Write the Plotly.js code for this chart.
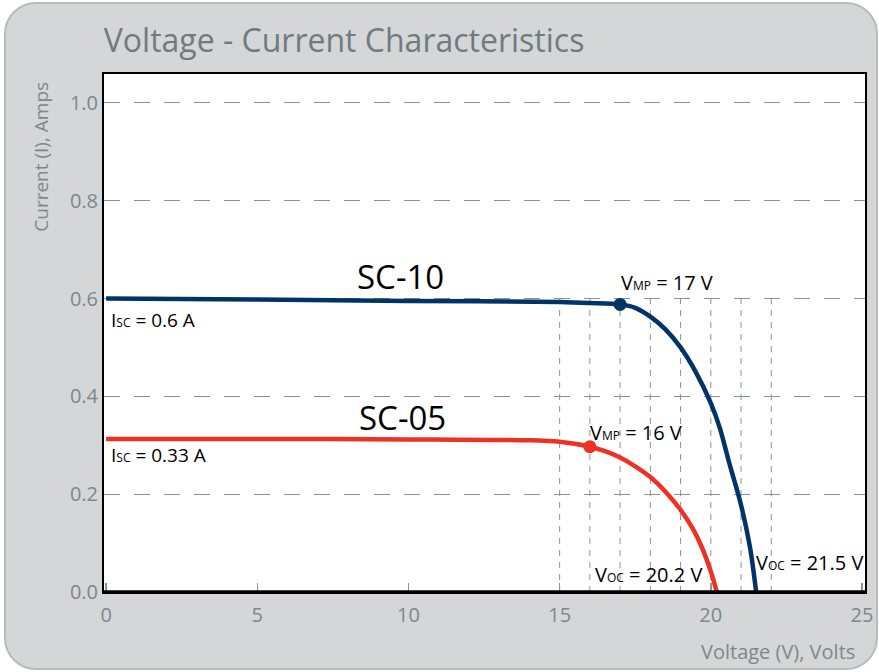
<!DOCTYPE html>
<html>
<head>
<meta charset="utf-8">
<script src="https://cdn.plot.ly/plotly-3.0.1.min.js"></script>
<style>
  html, body { margin: 0; padding: 0; background: #ffffff; }
  #wrap { position: relative; width: 879px; height: 672px; overflow: hidden; }
  #panel { position: absolute; left: 4px; top: 2px; width: 870px; height: 664px;
           background: #d4d6d8; border: 2px solid #b8bbbd; border-radius: 32px; }
  #chart { position: absolute; left: 0; top: 0; width: 879px; height: 672px; }
</style>
</head>
<body>
<div id="wrap"><div id="panel"></div><div id="chart"></div></div>
<script>
// ---- data ----
const sc10Volts = [0, 5, 10, 15, 16, 17, 17.5, 18, 18.5, 19, 19.5, 20, 20.3, 20.6, 21, 21.3, 21.5];
const sc10Amps  = [0.600, 0.598, 0.595, 0.593, 0.591, 0.588, 0.581, 0.563, 0.537, 0.500, 0.450, 0.386, 0.335, 0.266, 0.178, 0.090, 0.0];
const sc05Volts = [0, 5, 10, 14, 15, 16, 16.5, 17, 17.5, 18, 18.5, 19, 19.4, 19.7, 20, 20.2];
const sc05Amps  = [0.313, 0.313, 0.312, 0.310, 0.307, 0.297, 0.288, 0.275, 0.257, 0.235, 0.205, 0.168, 0.130, 0.092, 0.042, 0.0];
const mpVolts = [17, 16];
const mpAmps  = [0.588, 0.297];
const refVolts = [15, 16, 17, 18, 19, 20, 21, 22];
const refTop = 0.6;
const xTicks = [0, 5, 10, 15, 20, 25];
const yTicks = [0, 0.2, 0.4, 0.6, 0.8, 1.0];
const yTickText = ['0.0', '0.2', '0.4', '0.6', '0.8', '1.0'];

const BLUE = '#003466', RED = '#ee3124', GREY = '#7d878c', GRID = '#8c9296';
const FONT = 'Open Sans, Noto Sans, sans-serif';

const traces = [
  { x: sc10Volts, y: sc10Amps, mode: 'lines', line: { color: BLUE, width: 4.5, shape: 'spline', smoothing: 0.8 }, hoverinfo: 'skip' },
  { x: sc05Volts, y: sc05Amps, mode: 'lines', line: { color: RED, width: 4.5, shape: 'spline', smoothing: 0.8 }, hoverinfo: 'skip' },
  { x: [mpVolts[0]], y: [mpAmps[0]], mode: 'markers', marker: { color: BLUE, size: 13 } },
  { x: [mpVolts[1]], y: [mpAmps[1]], mode: 'markers', marker: { color: RED, size: 13 } }
];

const shapes = refVolts.map(v => ({
  type: 'line', xref: 'x', yref: 'y', x0: v, x1: v, y0: 0, y1: refTop,
  line: { color: GRID, width: 1, dash: '6px,6px' }, layer: 'below'
}));
shapes.push({ type: 'line', xref: 'paper', yref: 'y', x0: 0, x1: 1, y0: 0, y1: 0,
  line: { color: '#000', width: 3.5 } });

const sub = s => "<span style='font-size:12px'>" + s + "</span>";
const ann = (text, x, y, xanchor, size, color) => ({
  text, x, y, xref: 'x', yref: 'y', xanchor: xanchor, yanchor: 'middle',
  showarrow: false, font: { family: FONT, size: size, color: color || '#000' }
});

const annotations = [
  ann('SC-10', 9.73, 0.644, 'center', 33),
  ann('SC-05', 9.8, 0.356, 'center', 33),
  ann('V' + sub('MP') + ' = 17 V', 16.95, 0.632, 'left', 20),
  ann('V' + sub('MP') + ' = 16 V', 15.95, 0.327, 'left', 20),
  ann('V' + sub('OC') + ' = 20.2 V', 17.93, 0.035, 'center', 20),
  ann('V' + sub('OC') + ' = 21.5 V', 21.42, 0.061, 'left', 20),
  ann('I' + sub('SC') + ' = 0.6 A', 0.1, 0.556, 'left', 19),
  ann('I' + sub('SC') + ' = 0.33 A', 0.1, 0.280, 'left', 19),
  { text: 'Current (I), Amps', xref: 'paper', yref: 'paper', x: -0.083, y: 0.84, textangle: -90,
    xanchor: 'center', yanchor: 'middle', showarrow: false, font: { family: FONT, size: 19, color: GREY } },
  { text: 'Voltage (V), Volts', xref: 'paper', yref: 'paper', x: 0.99, y: -0.115,
    xanchor: 'right', yanchor: 'middle', showarrow: false, font: { family: FONT, size: 20, color: GREY } }
];

const layout = {
  width: 879, height: 672,
  margin: { l: 104, r: 14, t: 74, b: 80 },
  paper_bgcolor: 'rgba(0,0,0,0)', plot_bgcolor: '#ffffff',
  showlegend: false,
  title: { text: 'Voltage - Current Characteristics', x: 0.118, xanchor: 'left', xref: 'container',
           y: 0.94, yanchor: 'middle', yref: 'container',
           font: { family: FONT, size: 32, color: '#6f7b80' } },
  xaxis: { range: [-0.07, 25.1], tickvals: xTicks, ticks: 'inside', ticklen: 9, tickwidth: 1.5, tickcolor: GRID,
           showline: true, linecolor: '#000', linewidth: 2, mirror: true, showgrid: false, zeroline: false,
           ticklabelstandoff: 4,
           tickfont: { family: FONT, size: 20, color: GREY } },
  yaxis: { range: [0, 1.059], tickvals: yTicks, ticktext: yTickText, ticks: '',
           showline: true, linecolor: '#000', linewidth: 2, mirror: true,
           showgrid: true, gridcolor: GRID, gridwidth: 1.2, griddash: '16px,14px', zeroline: false,
           tickfont: { family: FONT, size: 20, color: GREY } },
  shapes, annotations
};

Plotly.newPlot('chart', traces, layout, { staticPlot: true, displayModeBar: false });
</script>
</body>
</html>
